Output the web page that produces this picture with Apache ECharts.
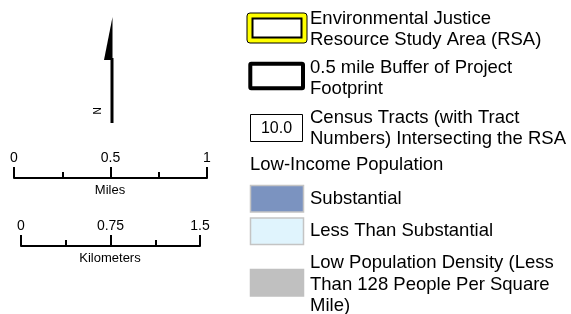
<!DOCTYPE html>
<html>
<head>
<meta charset="utf-8">
<script src="https://cdn.jsdelivr.net/npm/echarts@6/dist/echarts.min.js"></script>
<style>
html, body { margin: 0; padding: 0; background: #fff; }
#main { width: 571px; height: 314px; }
</style>
</head>
<body>
<div id="main"></div>
<script>
// scale bars
var milesRange = [0, 1];
var milesStep = 0.5;
var kmRange = [0, 1.5];
var kmStep = 0.75;
var scaleNames = ['Miles', 'Kilometers'];

// legend text
var outlineLabels = [
  'Environmental Justice\nResource Study Area (RSA)',
  '0.5 mile Buffer of Project\nFootprint',
  'Census Tracts (with Tract\nNumbers) Intersecting the RSA'
];
var tractNumber = '10.0';
var groupTitle = 'Low-Income Population';
var classLabels = [
  'Substantial',
  'Less Than Substantial',
  'Low Population Density (Less\nThan 128 People Per Square\nMile)'
];
var classColors = ['#7b93c0', '#e0f4fd', '#c0c0c0'];

var FONT = '"Liberation Sans", Arial, sans-serif';
var myChart = echarts.init(document.getElementById('main'));

//scale bar drawn as a value axis
function scaleAxis (idx, range, step) {
  return {
    gridIndex: idx,
    type: 'value',
    position: 'top',
    min: range[0],
    max: range[1],
    interval: step,
    axisLine: { show: true, onZero: false, lineStyle: { color: '#000', width: 2 } },
    axisTick: { show: true, length: 11, lineStyle: { color: '#000', width: 2 } },
    minorTick: { show: true, splitNumber: 2, length: 6, lineStyle: { color: '#000', width: 2 } },
    axisLabel: { show: true, margin: 13, color: '#000', fontSize: 14, fontFamily: FONT,
      showMinLabel: true, showMaxLabel: true,
      formatter: function (v) { return String(v); } },
    splitLine: { show: false }
  };
}

function txt (x, y, text, size, align, lh) {
  return {
    type: 'text', x: x, y: y,
    style: { text: text, font: size + 'px ' + FONT, fill: '#000',
      textAlign: align || 'left', textVerticalAlign: 'middle', lineHeight: lh || size * 1.2 }
  };
}

var graphics = [];
// north arrow
graphics.push({ type: 'polygon', shape: { points: [[112.5, 17], [104, 60], [112.5, 60]] }, style: { fill: '#000' } });
graphics.push({ type: 'line', shape: { x1: 112, y1: 58, x2: 112, y2: 123 }, style: { stroke: '#000', lineWidth: 3 } });
graphics.push({ type: 'text', x: 98, y: 111, rotation: Math.PI / 2,
  style: { text: 'N', font: '10px ' + FONT, fill: '#000', textAlign: 'center', textVerticalAlign: 'middle' } });

// scale names
graphics.push(txt(110, 190, scaleNames[0], 13, 'center'));
graphics.push(txt(110, 258, scaleNames[1], 13, 'center'));

// RSA box
graphics.push({ type: 'rect', shape: { x: 247, y: 13, width: 60, height: 30, r: 3 },
  style: { fill: '#ffff00', stroke: '#000', lineWidth: 1 } });
graphics.push({ type: 'rect', shape: { x: 252.5, y: 18.5, width: 49, height: 19 },
  style: { fill: '#fff', stroke: '#000', lineWidth: 2 } });
// buffer box
graphics.push({ type: 'rect', shape: { x: 250.3, y: 63.7, width: 52.7, height: 24.5, r: 1 },
  style: { fill: '#fff', stroke: '#000', lineWidth: 4 } });
// tract box
graphics.push({ type: 'rect', shape: { x: 250.5, y: 114.5, width: 52, height: 27 },
  style: { fill: '#fff', stroke: '#000', lineWidth: 1 } });
graphics.push(txt(276.5, 129, tractNumber, 16, 'center'));

var outlineY = [29.5, 78, 128.5];
for (var i = 0; i < outlineLabels.length; i++) {
  graphics.push(txt(310, outlineY[i], outlineLabels[i], 18.5, 'left', 21));
}
graphics.push(txt(250, 165, groupTitle, 18.5, 'left'));

var swatchY = [185, 217.5, 269];
var labelY = [199, 231, 284.5];
for (var j = 0; j < classLabels.length; j++) {
  graphics.push({ type: 'rect', shape: { x: 250.5, y: swatchY[j] + 0.5, width: 53, height: 26.5 },
    style: { fill: classColors[j], stroke: j < 2 ? '#c4c4c4' : classColors[j], lineWidth: 1.5 } });
  graphics.push(txt(310, labelY[j], classLabels[j], 18.5, 'left', 21.5));
}

var option = {
  animation: false,
  grid: [
    { left: 14, top: 178, width: 193, height: 10 },
    { left: 21, top: 246, width: 179, height: 10 }
  ],
  xAxis: [scaleAxis(0, milesRange, milesStep), scaleAxis(1, kmRange, kmStep)],
  yAxis: [
    { gridIndex: 0, type: 'value', show: false },
    { gridIndex: 1, type: 'value', show: false }
  ],
  series: [],
  graphic: graphics
};
myChart.setOption(option);
</script>
</body>
</html>
